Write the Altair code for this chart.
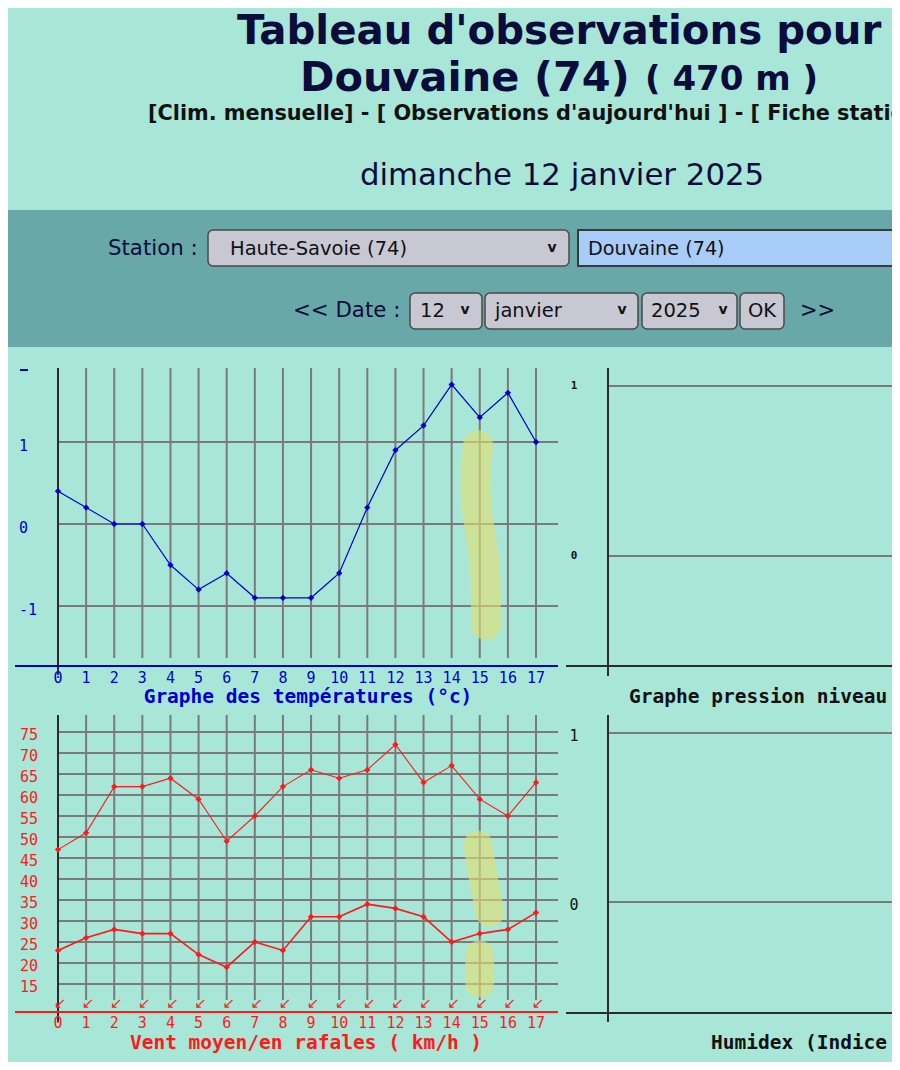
import altair as alt
import pandas as pd

# ---------------- data ----------------
hours = list(range(18))
temperature = [0.4, 0.2, 0.0, 0.0, -0.5, -0.8, -0.6, -0.9, -0.9, -0.9,
               -0.6, 0.2, 0.9, 1.2, 1.7, 1.3, 1.6, 1.0]
wind_gust = [47, 51, 62, 62, 64, 59, 49, 55, 62, 66, 64, 66, 72, 63, 67, 59, 55, 63]
wind_mean = [23, 26, 28, 27, 27, 22, 19, 25, 23, 31, 31, 34, 33, 31, 25, 27, 28, 32]
wind_dir = ["\u2199"] * 18
temp_ticks = [-1, 0, 1]
wind_ticks = [15, 20, 25, 30, 35, 40, 45, 50, 55, 60, 65, 70, 75]
unit_ticks = [0, 1]
next_hours = list(range(11))
# hand-drawn highlight strokes (in data units of each chart)
temp_mark_x = [14.94, 14.80, 14.95, 15.22, 15.22]
temp_mark_y = [0.96, 0.45, 0.0, -0.45, -1.23]
wind_mark1_x = [14.94, 15.11, 15.36]
wind_mark1_y = [48.1, 41.0, 32.1]
wind_mark2_x = [15.0, 15.0]
wind_mark2_y = [21.9, 15.2]

# ---------------- style ----------------
BG = "#a8e6d8"
BAND = "#68a8a8"
NAVY = "#0c0c3c"
BOX = "#c8c8d2"
BOX_BORDER = "#4a4a4a"
BLUEBOX = "#a8ccf8"
GRID = "#7a7a7a"
DARK = "#2c2c2c"
TBLUE = "#0000cc"
WRED = "#ff1a1a"
HL = "#e6e070"
SANS = "DejaVu Sans"
MONO = "DejaVu Sans Mono"
OFF = 8


def P(v):
    return v - OFF


ONE = pd.DataFrame({"a": [1]})
layers = []


def text(s, x, y, size, color, weight="normal", font=SANS, align="left", baseline="middle"):
    layers.append(
        alt.Chart(ONE).mark_text(text=s, fontSize=size, font=font, fontWeight=weight,
                                 color=color, align=align, baseline=baseline)
        .encode(x=alt.value(P(x)), y=alt.value(P(y)))
    )


def box(x1, x2, y1, y2, fill, stroke=BOX_BORDER, sw=1.5, radius=5):
    layers.append(
        alt.Chart(ONE).mark_rect(fill=fill, stroke=stroke, strokeWidth=sw, cornerRadius=radius)
        .encode(x=alt.value(P(x1)), x2=alt.value(P(x2)), y=alt.value(P(y1)), y2=alt.value(P(y2)))
    )


def hline(x1, x2, y, color, w):
    layers.append(
        alt.Chart(ONE).mark_rule(color=color, strokeWidth=w)
        .encode(x=alt.value(P(x1)), x2=alt.value(P(x2)), y=alt.value(P(y)))
    )


def vline(x, y1, y2, color, w):
    layers.append(
        alt.Chart(ONE).mark_rule(color=color, strokeWidth=w)
        .encode(x=alt.value(P(x)), y=alt.value(P(y1)), y2=alt.value(P(y2)))
    )


# ---------------- header ----------------
text("Tableau d'observations pour", 237, 44, 40.3, NAVY, "bold", baseline="alphabetic")
text("Douvaine (74)", 300, 91, 41.5, NAVY, "bold", baseline="alphabetic")
text("( 470 m )", 645, 90, 34, NAVY, "bold", baseline="alphabetic")
text("[Clim. mensuelle] - [ Observations d'aujourd'hui ] - [ Fiche station ]",
     148, 120, 20.8, "#111111", "bold", baseline="alphabetic")
text("dimanche 12 janvier 2025", 360, 185, 30.8, NAVY, baseline="alphabetic")

# teal band with the form
box(0, 905, 210, 347, BAND, stroke=BAND, sw=0, radius=0)
text("Station :", 108, 249, 21.3, NAVY)
box(208, 569, 230, 266, BOX)
text("Haute-Savoie (74)", 230, 249, 19.5, "#111111")
text("v", 552, 248, 14, "#111111", "bold", align="center")
box(578, 905, 230, 266, BLUEBOX, stroke="#3a3a3a", sw=2, radius=0)
text("Douvaine (74)", 588, 249, 19.2, "#111111")

text("<< Date :", 293, 311, 21.3, NAVY)
box(410, 482, 293, 329, BOX)
text("12", 420, 311, 19.5, "#111111")
text("v", 465, 310, 14, "#111111", "bold", align="center")
box(485, 638, 293, 329, BOX)
text("janvier", 495, 311, 19.5, "#111111")
text("v", 622, 310, 14, "#111111", "bold", align="center")
box(642, 737, 293, 329, BOX)
text("2025", 651, 311, 19.5, "#111111")
text("v", 723, 310, 14, "#111111", "bold", align="center")
box(740, 784, 293, 329, BOX)
text("OK", 762, 311, 19.5, "#111111", align="center")
text(">>", 800, 311, 21, NAVY)

# ---------------- scales ----------------
HX = alt.Scale(domain=[0, 17], range=[P(58), P(536)], nice=False, zero=False)
TY = alt.Scale(domain=[-1, 1], range=[P(606), P(442)], nice=False, zero=False)
WY = alt.Scale(domain=[15, 75], range=[P(984), P(732)], nice=False, zero=False)
PY = alt.Scale(domain=[0, 1], range=[P(556), P(386)], nice=False, zero=False)
UY = alt.Scale(domain=[0, 1], range=[P(902), P(733)], nice=False, zero=False)
RX = alt.Scale(domain=[0, 10], range=[P(608), P(889)], nice=False, zero=False)

hours_df = pd.DataFrame({"h": hours, "lab": [str(h) for h in hours], "dir": wind_dir})
temp_df = pd.DataFrame({"h": hours, "t": temperature})
wind_df = pd.DataFrame({"h": hours, "gust": wind_gust, "mean": wind_mean})
tt_df = pd.DataFrame({"v": temp_ticks, "lab": [str(v) for v in temp_ticks]})
wt_df = pd.DataFrame({"v": wind_ticks, "lab": [str(v) for v in wind_ticks]})
ut_df = pd.DataFrame({"v": unit_ticks, "lab": [str(v) for v in unit_ticks]})
nh_df = pd.DataFrame({"h": next_hours})

X = alt.X("h:Q", scale=HX, axis=None)

# ---------------- temperature chart ----------------
layers.append(alt.Chart(hours_df).mark_rule(color=GRID, strokeWidth=2)
              .encode(x=X, y=alt.value(P(368)), y2=alt.value(P(658))))
layers.append(alt.Chart(tt_df).mark_rule(color=GRID, strokeWidth=2)
              .encode(y=alt.Y("v:Q", scale=TY, axis=None), x=alt.value(P(58)), x2=alt.value(P(558))))
layers.append(alt.Chart(tt_df).mark_text(font=MONO, fontSize=15, color=TBLUE, align="left", dy=4)
              .encode(y=alt.Y("v:Q", scale=TY, axis=None), x=alt.value(P(19)), text="lab:N"))
hline(20, 28, 370, TBLUE, 2)
vline(58, 368, 675, DARK, 2)
hline(15, 558, 666, TBLUE, 2)
layers.append(alt.Chart(hours_df).mark_text(font=MONO, fontSize=15, color=TBLUE, align="center")
              .encode(x=X, y=alt.value(P(678)), text="lab:N"))
text("Graphe des températures (°c)", 308, 697, 19.5, TBLUE, "bold", font=MONO, align="center")

hl_t = pd.DataFrame({"x": temp_mark_x, "y": temp_mark_y, "o": range(len(temp_mark_x))})
layers.append(alt.Chart(hl_t).mark_line(color=HL, opacity=0.6, strokeWidth=30, strokeCap="round",
                                         strokeJoin="round", interpolate="basis")
              .encode(x=alt.X("x:Q", scale=HX, axis=None), y=alt.Y("y:Q", scale=TY, axis=None), order="o:Q"))

layers.append(alt.Chart(temp_df).mark_line(color=TBLUE, strokeWidth=1.2)
              .encode(x=X, y=alt.Y("t:Q", scale=TY, axis=None)))
layers.append(alt.Chart(temp_df).mark_point(shape="diamond", filled=True, size=40, color=TBLUE, opacity=1)
              .encode(x=X, y=alt.Y("t:Q", scale=TY, axis=None)))

# ---------------- wind chart ----------------
layers.append(alt.Chart(hours_df).mark_rule(color=GRID, strokeWidth=2)
              .encode(x=X, y=alt.value(P(715)), y2=alt.value(P(1000))))
layers.append(alt.Chart(wt_df).mark_rule(color=GRID, strokeWidth=2)
              .encode(y=alt.Y("v:Q", scale=WY, axis=None), x=alt.value(P(58)), x2=alt.value(P(558))))
layers.append(alt.Chart(wt_df).mark_text(font=MONO, fontSize=15, color=WRED, align="left", dy=3)
              .encode(y=alt.Y("v:Q", scale=WY, axis=None), x=alt.value(P(20)), text="lab:N"))
vline(58, 715, 1022, DARK, 2)
hline(15, 558, 1012, WRED, 2)
layers.append(alt.Chart(hours_df).mark_text(font=SANS, fontSize=15, color=WRED, align="center", dx=2)
              .encode(x=X, y=alt.value(P(1003)), text="dir:N"))
layers.append(alt.Chart(hours_df).mark_text(font=MONO, fontSize=15, color=WRED, align="center")
              .encode(x=X, y=alt.value(P(1023)), text="lab:N"))
text("Vent moyen/en rafales ( km/h )", 306, 1043, 19.5, WRED, "bold", font=MONO, align="center")

for mx, my in ((wind_mark1_x, wind_mark1_y), (wind_mark2_x, wind_mark2_y)):
    d = pd.DataFrame({"x": mx, "y": my, "o": range(len(mx))})
    layers.append(alt.Chart(d).mark_line(color=HL, opacity=0.6, strokeWidth=29, strokeCap="round",
                                          strokeJoin="round", interpolate="monotone")
                  .encode(x=alt.X("x:Q", scale=HX, axis=None), y=alt.Y("y:Q", scale=WY, axis=None),
                          order="o:Q"))

for col, w in (("gust", 1.1), ("mean", 1.6)):
    layers.append(alt.Chart(wind_df).mark_line(color=WRED, strokeWidth=w)
                  .encode(x=X, y=alt.Y(f"{col}:Q", scale=WY, axis=None)))
    layers.append(alt.Chart(wind_df).mark_point(shape="diamond", filled=True, size=40, color=WRED, opacity=1)
                  .encode(x=X, y=alt.Y(f"{col}:Q", scale=WY, axis=None)))

# ---------------- pressure panel (empty) ----------------
layers.append(alt.Chart(ut_df).mark_rule(color=GRID, strokeWidth=2)
              .encode(y=alt.Y("v:Q", scale=PY, axis=None), x=alt.value(P(609)), x2=alt.value(P(900))))
layers.append(alt.Chart(ut_df).mark_text(font=MONO, fontSize=11, fontWeight="bold", color="#111111",
                                         align="center")
              .encode(y=alt.Y("v:Q", scale=PY, axis=None), x=alt.value(P(574)), text="lab:N"))
vline(608, 368, 676, DARK, 2)
hline(566, 900, 666, DARK, 2)
text("Graphe pression niveau de la mer", 629, 697, 19.5, "#111111", "bold", font=MONO)

# ---------------- humidex panel (empty) ----------------
layers.append(alt.Chart(ut_df).mark_rule(color=GRID, strokeWidth=2)
              .encode(y=alt.Y("v:Q", scale=UY, axis=None), x=alt.value(P(609)), x2=alt.value(P(900))))
layers.append(alt.Chart(ut_df).mark_text(font=MONO, fontSize=15, color="#111111", align="center", dy=3)
              .encode(y=alt.Y("v:Q", scale=UY, axis=None), x=alt.value(P(574)), text="lab:N"))
vline(608, 715, 1022, DARK, 2)
hline(566, 900, 1013, DARK, 2)
text("Humidex (Indice de chaleur)", 711, 1043, 19.5, "#111111", "bold", font=MONO)

# tops of the next row of charts
layers.append(alt.Chart(nh_df).mark_rule(color=GRID, strokeWidth=2)
              .encode(x=alt.X("h:Q", scale=RX, axis=None), y=alt.value(P(1062)), y2=alt.value(P(1075))))
vline(58, 1062, 1075, DARK, 2)

chart = (
    alt.layer(*layers)
    .resolve_scale(x="independent", y="independent")
    .properties(width=884, height=1054, background=BG, padding=0,
                autosize=alt.AutoSizeParams(type="none"))
    .configure_view(stroke=None)
)

chart.save("out.html", embed_options={"renderer": "svg", "actions": False})
